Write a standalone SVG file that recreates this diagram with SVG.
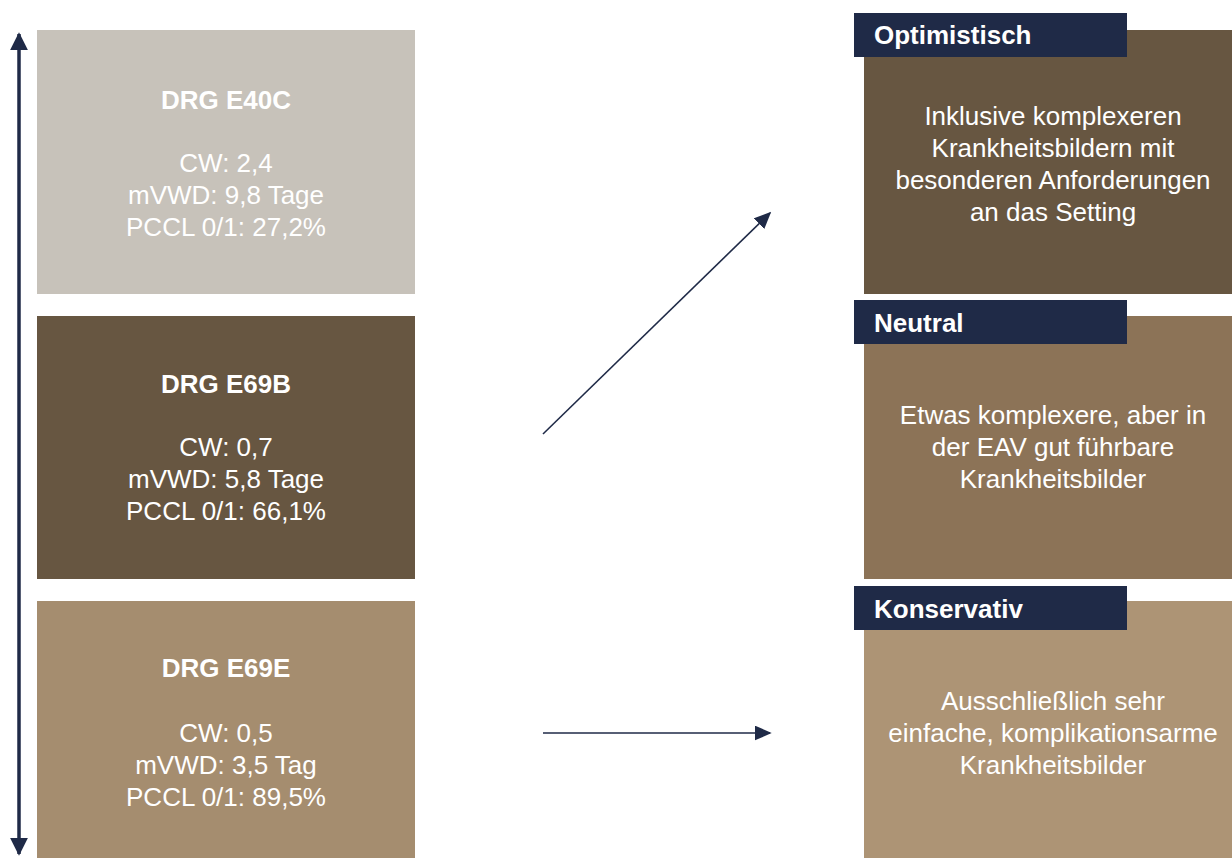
<svg xmlns="http://www.w3.org/2000/svg" width="1232" height="858" viewBox="0 0 1232 858">
<style>
.t{font-family:"Liberation Sans",Arial,sans-serif;font-size:26px;fill:#ffffff;text-anchor:middle}
.b{font-weight:bold}
.tab{font-family:"Liberation Sans",Arial,sans-serif;font-size:26px;font-weight:bold;fill:#ffffff}
.con{stroke:#1F2A47;stroke-width:1.6;fill:none}
</style>
<defs>
<marker id="ah" viewBox="0 0 10 10" refX="9" refY="5" markerWidth="17" markerHeight="15" markerUnits="userSpaceOnUse" orient="auto" preserveAspectRatio="none"><path d="M0,0 L10,5 L0,10 z" fill="#1F2A47"/></marker>
<marker id="ah2" viewBox="0 0 10 10" refX="9" refY="5" markerWidth="18" markerHeight="18" markerUnits="userSpaceOnUse" orient="auto-start-reverse"><path d="M0,0 L10,5 L0,10 z" fill="#1F2A47"/></marker>
</defs>
<rect width="1232" height="858" fill="#ffffff"/>
<g id="connectors">
<line class="con" x1="19" y1="34" x2="19" y2="854" style="stroke-width:3.5" marker-start="url(#ah2)" marker-end="url(#ah2)"/>
<line class="con" x1="543" y1="434" x2="770" y2="213" marker-end="url(#ah)"/>
<line class="con" x1="543" y1="733" x2="770" y2="733" marker-end="url(#ah)"/>
</g>
<g id="drg-e40c">
<rect x="37" y="30" width="378" height="264" fill="#C7C2BA"/>
<text class="t b" x="226" y="109">DRG E40C</text>
<text class="t" x="226" y="172">CW: 2,4</text>
<text class="t" x="226" y="204">mVWD: 9,8 Tage</text>
<text class="t" x="226" y="236">PCCL 0/1: 27,2%</text>
</g>
<g id="drg-e69b">
<rect x="37" y="316" width="378" height="263" fill="#675641"/>
<text class="t b" x="226" y="393">DRG E69B</text>
<text class="t" x="226" y="456">CW: 0,7</text>
<text class="t" x="226" y="488">mVWD: 5,8 Tage</text>
<text class="t" x="226" y="520">PCCL 0/1: 66,1%</text>
</g>
<g id="drg-e69e">
<rect x="37" y="601" width="378" height="257" fill="#A58D6F"/>
<text class="t b" x="226" y="677">DRG E69E</text>
<text class="t" x="226" y="742">CW: 0,5</text>
<text class="t" x="226" y="774">mVWD: 3,5 Tag</text>
<text class="t" x="226" y="806">PCCL 0/1: 89,5%</text>
</g>
<g id="optimistisch">
<rect x="864" y="30" width="368" height="264" fill="#675641"/>
<rect x="854" y="13" width="273" height="44" fill="#1F2A47"/>
<text class="tab" x="874" y="44">Optimistisch</text>
<text class="t" x="1053" y="125">Inklusive komplexeren</text>
<text class="t" x="1053" y="157">Krankheitsbildern mit</text>
<text class="t" x="1053" y="189">besonderen Anforderungen</text>
<text class="t" x="1053" y="221">an das Setting</text>
</g>
<g id="neutral">
<rect x="864" y="316" width="368" height="263" fill="#8C7357"/>
<rect x="854" y="300" width="273" height="44" fill="#1F2A47"/>
<text class="tab" x="874" y="332">Neutral</text>
<text class="t" x="1053" y="424">Etwas komplexere, aber in</text>
<text class="t" x="1053" y="456">der EAV gut führbare</text>
<text class="t" x="1053" y="488">Krankheitsbilder</text>
</g>
<g id="konservativ">
<rect x="864" y="601" width="368" height="257" fill="#AD9475"/>
<rect x="854" y="586" width="273" height="44" fill="#1F2A47"/>
<text class="tab" x="874" y="618">Konservativ</text>
<text class="t" x="1053" y="710">Ausschließlich sehr</text>
<text class="t" x="1053" y="742">einfache, komplikationsarme</text>
<text class="t" x="1053" y="774">Krankheitsbilder</text>
</g>
</svg>
